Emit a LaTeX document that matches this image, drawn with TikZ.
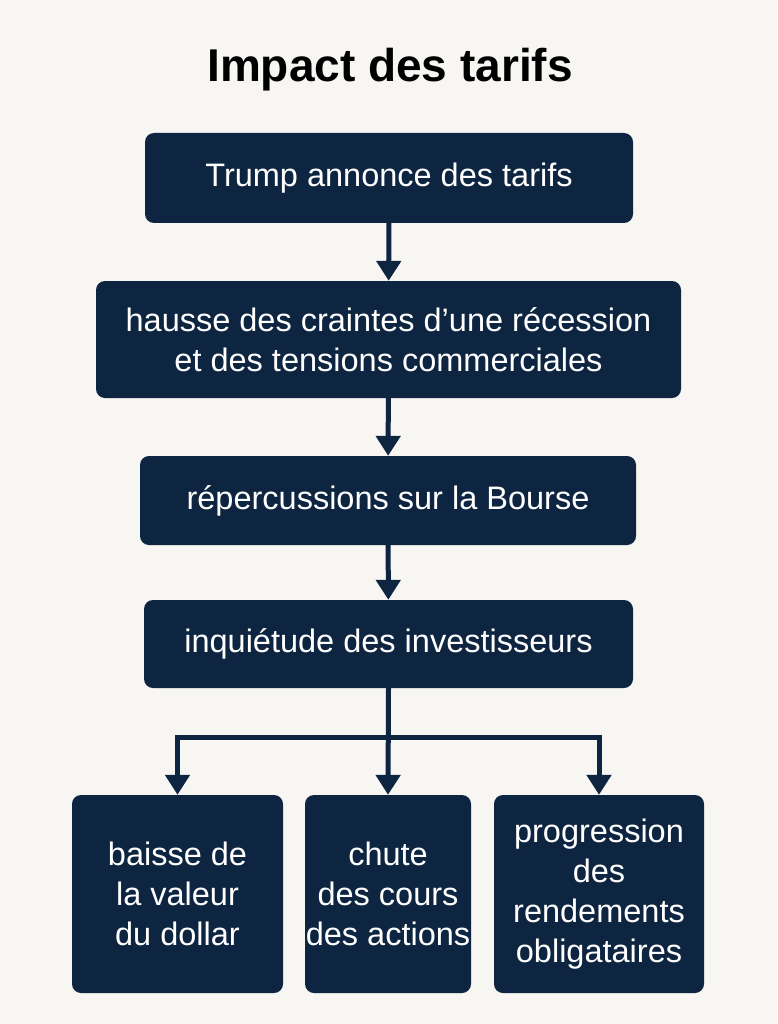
\documentclass[tikz,border=0pt]{standalone}
\usepackage{fontspec}
\setmainfont{Liberation Sans}
\usetikzlibrary{arrows.meta}
\definecolor{navy}{HTML}{0D2540}
\definecolor{paper}{HTML}{F7F6F2}
\tikzset{
  box/.style={fill=navy,rounded corners=9pt,text=white,align=center,
    font=\fontsize{32.5}{40}\selectfont,inner sep=0pt},
  link/.style={navy,line width=5pt,-{Triangle[length=20pt,width=24pt]}}
}
\begin{document}
\begin{tikzpicture}[x=1pt,y=-1pt]
\fill[paper] (0,0) rectangle (777,1024);
\useasboundingbox (0,0) rectangle (777,1024);
\node[font=\fontsize{46}{54}\selectfont\bfseries] (title) at (390,70) {Impact des tarifs};
\node[box,minimum width=488pt,minimum height=90pt] (trump) at (389,178) {Trump annonce des tarifs};
\node[box,minimum width=585pt,minimum height=117pt] (craintes) at (388.5,339.5) {hausse des craintes d’une récession\\et des tensions commerciales};
\node[box,minimum width=496pt,minimum height=89pt] (bourse) at (388,500.5) {répercussions sur la Bourse};
\node[box,minimum width=489pt,minimum height=88pt] (inquiet) at (388.5,644) {inquiétude des investisseurs};
\node[box,minimum width=211pt,minimum height=198pt] (dollar) at (177.5,894) {baisse de\\la valeur\\du dollar};
\node[box,minimum width=166pt,minimum height=198pt] (actions) at (388,894) {chute\\des cours\\des actions};
\node[box,minimum width=210pt,minimum height=198pt] (rendements) at (599,894) {progression\\des\\rendements\\obligataires};
\draw[link] (trump) -- (craintes);
\draw[link] (craintes) -- (bourse);
\draw[link] (bourse) -- (inquiet);
\coordinate (split) at (388,737);
\draw[link] (inquiet.south) -- (actions.north);
\draw[link] (split) -| (dollar.north);
\draw[link] (split) -| (rendements.north);
\end{tikzpicture}
\end{document}
